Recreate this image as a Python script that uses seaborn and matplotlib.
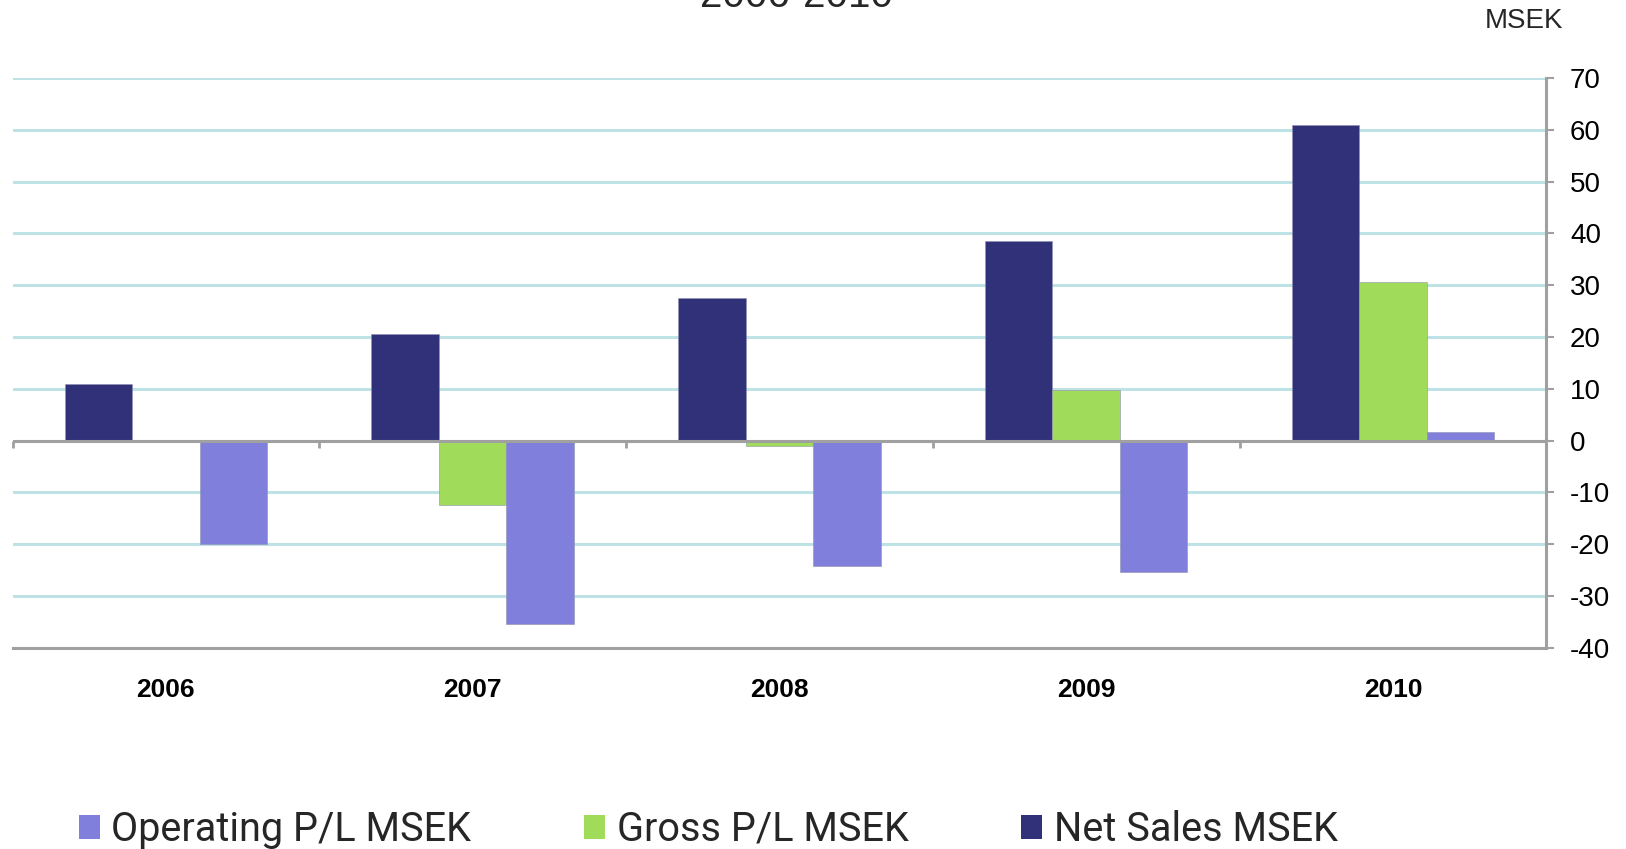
import numpy as np
import pandas as pd
import matplotlib
matplotlib.use("Agg")
import matplotlib.pyplot as plt
import seaborn as sns
from matplotlib.patches import Patch

years = ["2006", "2007", "2008", "2009", "2010"]
net_sales = [11.0, 20.6, 27.5, 38.5, 60.9]
gross_pl = [0.0, -12.5, -1.0, 9.8, 30.6]
operating_pl = [-20.0, -35.4, -24.3, -25.3, 1.6]

series_names = ["Net Sales MSEK", "Gross P/L MSEK", "Operating P/L MSEK"]
legend_order = ["Operating P/L MSEK", "Gross P/L MSEK", "Net Sales MSEK"]
colors = {"Net Sales MSEK": "#31317A", "Gross P/L MSEK": "#A0DC5A", "Operating P/L MSEK": "#8080DC"}
title_text = "2006-2010"
unit_text = "MSEK"
y_ticks = list(range(-40, 71, 10))

df = pd.DataFrame({
    "Year": years * 3,
    "Series": [series_names[0]] * 5 + [series_names[1]] * 5 + [series_names[2]] * 5,
    "Value": net_sales + gross_pl + operating_pl,
})

sns.set_theme(style="white")
plt.rcParams["font.family"] = ["Liberation Sans", "DejaVu Sans"]
plt.rcParams["axes.unicode_minus"] = False

fig = plt.figure(figsize=(16.26, 8.49), dpi=100)
ax = fig.add_axes([0.0077, 0.237, 0.9433, 0.671])

sns.barplot(data=df, x="Year", y="Value", hue="Series", hue_order=series_names,
            palette=colors, saturation=1, width=0.66, gap=0, ax=ax, errorbar=None,
            edgecolor="#9090B0", linewidth=0.4, zorder=3)
if ax.legend_ is not None:
    ax.legend_.remove()

ax.set_xlim(-0.5, len(years) - 0.5)
ax.set_ylim(-40, 70)
ax.set_yticks(y_ticks)
ax.yaxis.tick_right()
ax.yaxis.set_label_position("right")
ax.set_xlabel("")
ax.set_ylabel("")

grid_c = "#BFE2E6"
ax.yaxis.grid(True, color=grid_c, linewidth=2.2, zorder=0)
ax.xaxis.grid(False)
ax.set_axisbelow(True)

for s in ["left", "top"]:
    ax.spines[s].set_visible(False)
for s in ["right", "bottom"]:
    ax.spines[s].set_color("#A0A0A0")
    ax.spines[s].set_linewidth(2.2)

ax.tick_params(axis="y", which="major", direction="out", length=6, width=1.5,
               color="#A0A0A0", pad=11, labelsize=20, labelcolor="black", right=True, left=False)
ax.tick_params(axis="x", length=0, pad=21.5, labelsize=19, labelcolor="black")
for lbl in ax.get_xticklabels():
    lbl.set_fontweight("bold")

# zero line with category boundary ticks
ax.axhline(0, color="#A0A0A0", linewidth=2.2, zorder=4)
bounds = np.arange(len(years) + 1) - 0.5
ax.vlines(bounds, -1.4, 0, color="#A0A0A0", linewidth=2.0, zorder=4, clip_on=False)

fig.text(0.490, 1 - 7 / 849, title_text, ha="center", va="baseline", fontsize=29)
fig.text(0.937, 1 - 21 / 849, unit_text, ha="center", va="center", fontsize=20)

handles = [Patch(facecolor=colors[n], edgecolor="none") for n in legend_order]
fig.legend(handles, legend_order, loc="center left", bbox_to_anchor=(0.0486, 0.023),
           bbox_transform=fig.transFigure, ncol=3, frameon=False, borderpad=0,
           borderaxespad=0, handlelength=0.53, handleheight=0.53, handletextpad=0.29,
           columnspacing=2.85, prop={"family": ["Roboto", "DejaVu Sans"], "size": 28.5})

fig.savefig("out.png", dpi=100)
